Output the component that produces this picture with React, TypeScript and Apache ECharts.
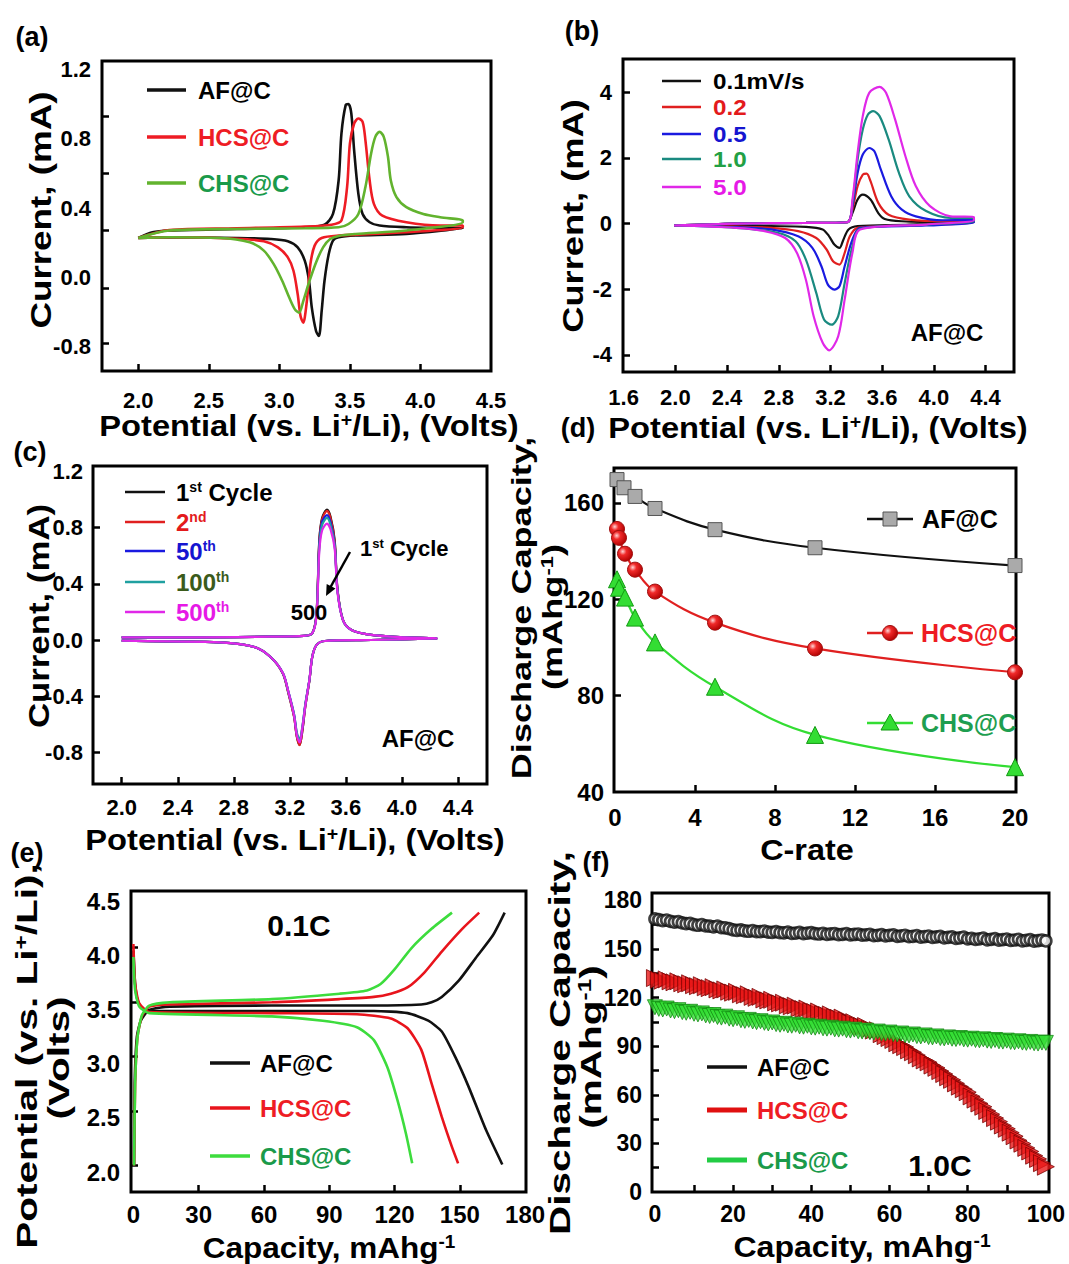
import React, { useEffect, useRef } from "react";
import * as echarts from "echarts";

const FONT = '"Liberation Sans", Arial, Helvetica, sans-serif';

// ---------- (a) CV of three materials ----------
const aAF_V = [2.00,2.10,2.22,2.70,3.18,3.32,3.38,3.42,3.44,3.47,3.49,3.51,3.53,3.56,3.59,3.64,3.71,3.90,4.14,4.30, 4.30,3.90,3.54,3.42,3.38,3.35,3.32,3.30,3.28,3.26,3.23,3.21,3.18,3.13,3.06,2.94,2.70,2.22,2.00];
const aAF_I = [0.228,0.261,0.271,0.280,0.290,0.305,0.367,0.560,0.831,0.995,1.001,0.947,0.734,0.483,0.367,0.319,0.300,0.290,0.286,0.284, 0.280,0.251,0.242,0.232,0.213,0.135,-0.019,-0.193,-0.338,-0.309,-0.174,-0.019,0.097,0.174,0.209,0.222,0.228,0.232,0.228];
const aHCS_V = [2.00,2.22,2.70,3.18,3.37,3.44,3.48,3.50,3.53,3.56,3.59,3.61,3.64,3.67,3.73,3.90,4.14,4.30, 4.30,3.90,3.42,3.30,3.25,3.22,3.20,3.18,3.17,3.15,3.13,3.10,3.06,2.99,2.89,2.70,2.22,2.00];
const aHCS_I = [0.228,0.274,0.284,0.294,0.305,0.329,0.522,0.773,0.889,0.918,0.899,0.792,0.560,0.425,0.357,0.319,0.300,0.300, 0.290,0.261,0.242,0.228,0.184,0.077,-0.097,-0.232,-0.261,-0.222,-0.097,0.039,0.116,0.174,0.209,0.224,0.232,0.228];
const aCHS_V = [2.00,2.22,2.70,3.18,3.42,3.49,3.56,3.61,3.65,3.68,3.71,3.74,3.77,3.79,3.83,3.90,4.02,4.14,4.30, 4.30,3.90,3.54,3.42,3.36,3.31,3.26,3.21,3.17,3.14,3.11,3.07,3.02,2.96,2.89,2.79,2.58,2.22,2.00];
const aCHS_I = [0.228,0.271,0.280,0.284,0.290,0.309,0.367,0.522,0.715,0.812,0.841,0.812,0.696,0.560,0.464,0.406,0.367,0.348,0.329, 0.319,0.271,0.251,0.240,0.222,0.174,0.087,-0.029,-0.135,-0.203,-0.184,-0.116,-0.019,0.077,0.155,0.203,0.228,0.232,0.228];
const aXLabels = [2.0, 2.5, 3.0, 3.5, 4.0, 4.5];
const aXTicks = [2.0, 2.5, 3.0, 3.5, 4.0];
const aYLabels = [-0.4, 0, 0.4, 0.8, 1.2];
const aYTexts = ["-0.8", "0.0", "0.4", "0.8", "1.2"];
const aYTicks = [-0.38, -0.06, 0.27, 0.6, 0.93];

// ---------- (b) scan rates ----------
const b01_V = [1.99,2.47,3.01,3.33,3.37,3.41,3.45,3.51,3.57,3.62,3.75,4.07,4.31, 4.31,3.81,3.41,3.34,3.30,3.27,3.23,3.19,3.14,3.01,2.74,2.47,1.99];
const b01_I = [-0.06,0.0,0.02,0.04,0.32,0.73,0.88,0.73,0.32,0.14,0.07,0.04,0.12, 0.07,-0.03,-0.08,-0.18,-0.49,-0.74,-0.64,-0.39,-0.18,-0.10,-0.08,-0.07,-0.06];
const b02_V = [1.99,2.47,3.01,3.33,3.37,3.41,3.45,3.48,3.51,3.57,3.65,3.81,4.07,4.31, 4.31,3.81,3.41,3.35,3.31,3.27,3.22,3.17,3.09,2.95,2.74,2.47,1.99];
const b02_I = [-0.06,0.0,0.02,0.04,0.43,1.14,1.49,1.52,1.29,0.63,0.27,0.12,0.07,0.12, 0.04,-0.06,-0.13,-0.39,-0.89,-1.25,-1.15,-0.79,-0.44,-0.23,-0.13,-0.09,-0.06];
const b05_V = [1.99,2.47,3.01,3.33,3.37,3.41,3.45,3.50,3.54,3.59,3.67,3.75,3.86,4.07,4.31, 4.31,3.94,3.43,3.37,3.31,3.27,3.23,3.18,3.13,3.06,2.95,2.74,2.47,1.99];
const b05_I = [-0.06,0.0,0.02,0.04,0.53,1.54,2.10,2.30,2.20,1.64,0.83,0.43,0.22,0.10,0.12, 0.04,-0.06,-0.13,-0.49,-1.30,-1.91,-2.01,-1.86,-1.30,-0.74,-0.39,-0.18,-0.11,-0.06];
const b10_V = [1.99,2.47,3.01,3.33,3.37,3.41,3.45,3.49,3.53,3.58,3.65,3.73,3.81,3.94,4.13,4.31, 4.31,3.94,3.43,3.37,3.31,3.26,3.21,3.15,3.09,3.01,2.93,2.79,2.47,1.99];
const b10_I = [-0.06,0.0,0.02,0.04,0.63,1.95,2.86,3.32,3.42,3.27,2.56,1.54,0.83,0.38,0.17,0.17, 0.07,-0.03,-0.16,-0.69,-1.81,-2.82,-3.08,-2.92,-2.11,-1.10,-0.54,-0.28,-0.13,-0.06];
const b50_V = [1.99,2.47,3.01,3.33,3.37,3.41,3.45,3.50,3.58,3.63,3.70,3.78,3.86,3.97,4.13,4.31, 4.31,3.94,3.43,3.37,3.31,3.26,3.19,3.14,3.07,3.01,2.94,2.85,2.69,2.47,1.99];
const b50_I = [-0.06,0.0,0.02,0.04,0.73,2.15,3.27,3.98,4.16,3.98,3.17,2.05,1.14,0.53,0.22,0.20, 0.10,-0.03,-0.18,-0.89,-2.31,-3.43,-3.86,-3.63,-2.82,-1.71,-0.89,-0.44,-0.23,-0.13,-0.06];
const bXLabels = [1.6, 2.0, 2.4, 2.8, 3.2, 3.6, 4.0, 4.4];
const bXTicks = [2.0, 2.4, 2.8, 3.2, 3.6, 4.0, 4.4];
const bYLabels = [-4, -2, 0, 2, 4];

// ---------- (c) cycling CV ----------
const cV = [2.00,2.58,3.06,3.30,3.36,3.39,3.41,3.43,3.465,3.49,3.52,3.54,3.58,3.64,3.78,4.02,4.25, 4.25,3.78,3.45,3.39,3.36,3.34,3.31,3.29,3.27,3.25,3.23,3.19,3.15,3.06,2.94,2.70,2.34,2.00];
const c1_I = [0.019,0.019,0.024,0.029,0.048,0.19,0.71,0.87,0.93,0.88,0.71,0.36,0.14,0.071,0.036,0.019,0.012, 0.007,0.0,-0.007,-0.036,-0.119,-0.285,-0.475,-0.641,-0.748,-0.689,-0.546,-0.380,-0.238,-0.119,-0.048,-0.017,-0.010,-0.005];
const c2_I = [0.019,0.019,0.024,0.029,0.048,0.19,0.70,0.86,0.92,0.87,0.70,0.36,0.14,0.071,0.036,0.019,0.012, 0.007,0.0,-0.007,-0.036,-0.119,-0.285,-0.475,-0.64,-0.75,-0.69,-0.546,-0.38,-0.238,-0.119,-0.048,-0.017,-0.010,-0.005];
const c50_I = [0.019,0.019,0.024,0.029,0.048,0.18,0.68,0.84,0.89,0.84,0.68,0.35,0.14,0.071,0.036,0.019,0.012, 0.007,0.0,-0.007,-0.036,-0.119,-0.28,-0.46,-0.62,-0.72,-0.67,-0.53,-0.37,-0.235,-0.119,-0.048,-0.017,-0.010,-0.005];
const c100_I = [0.019,0.019,0.024,0.029,0.048,0.18,0.66,0.82,0.87,0.82,0.67,0.35,0.14,0.071,0.036,0.019,0.012, 0.007,0.0,-0.007,-0.036,-0.119,-0.28,-0.46,-0.61,-0.71,-0.66,-0.53,-0.37,-0.235,-0.119,-0.048,-0.017,-0.010,-0.005];
const c500_I = [0.019,0.019,0.024,0.029,0.048,0.17,0.63,0.78,0.83,0.79,0.65,0.34,0.14,0.071,0.036,0.019,0.012, 0.007,0.0,-0.007,-0.036,-0.119,-0.28,-0.47,-0.62,-0.73,-0.68,-0.54,-0.37,-0.235,-0.119,-0.048,-0.017,-0.010,-0.005];
const cXLabels = [2.0, 2.4, 2.8, 3.2, 3.6, 4.0, 4.4];
const cYLabels = [-0.8, -0.4, 0, 0.4, 0.8, 1.2];
const cYTicks = [-0.8, -0.4, 0, 0.4, 0.8];

// ---------- (d) rate capability ----------
const dRateAF = [0.1, 0.45, 1, 2, 5, 10, 20];
const dAF = [169.7, 166.3, 162.7, 157.7, 148.9, 141.4, 134.0];
const dRate = [0.1, 0.2, 0.5, 1, 2, 5, 10, 20];
const dHCS = [149.2, 145.5, 138.9, 132.3, 123.2, 110.3, 99.6, 89.7];
const dCHS = [128.3, 124.8, 120.7, 112.4, 102.1, 83.7, 63.7, 50.3];
const dXLabels = [0, 4, 8, 12, 16, 20];
const dXTicks = [4, 8, 12, 16];
const dYLabels = [40, 80, 120, 160];
const dYTicks = [80, 120, 160];

// ---------- (e) charge / discharge at 0.1C ----------
const eAFc_x = [0.3,0.6,1.6,3.4,7.3,16.7,63.6,110.5,132.3,137.0,141.7,149.5,157.3,165.2,170.6];
const eAFc_y = [2.06,2.82,3.25,3.40,3.50,3.53,3.54,3.54,3.55,3.57,3.62,3.77,3.98,4.19,4.40];
const eAFd_x = [0,0.8,1.9,4.2,10.5,63.6,110.5,126,135.5,141.7,148,154,162,169.5];
const eAFd_y = [4.05,3.74,3.59,3.51,3.49,3.49,3.49,3.47,3.40,3.30,3.06,2.79,2.39,2.07];
const eHCSc_x = [0.3,0.8,1.9,3.9,7.3,16.7,63.6,94.8,110.5,118.3,126.1,133.9,141.7,151.1,158.9];
const eHCSc_y = [2.06,2.82,3.25,3.44,3.53,3.55,3.57,3.60,3.62,3.65,3.71,3.85,4.04,4.25,4.40];
const eHCSd_x = [0,0.8,2.7,7.3,63.6,102.7,118.3,126,132.3,137,141.7,146.4,149.2];
const eHCSd_y = [4.11,3.74,3.56,3.48,3.47,3.46,3.42,3.33,3.13,2.82,2.51,2.23,2.08];
const eCHSc_x = [0.3,0.8,1.9,3.9,7.3,16.7,63.6,94.8,107.3,113.6,119.8,127.7,137,146.4];
const eCHSc_y = [2.06,2.82,3.25,3.45,3.54,3.57,3.60,3.65,3.68,3.74,3.87,4.07,4.25,4.40];
const eCHSd_x = [0,0.8,2.7,7.3,63.6,87,102.7,110.5,116.7,121.4,125.3,128.1];
const eCHSd_y = [3.99,3.68,3.53,3.47,3.44,3.40,3.34,3.22,2.97,2.66,2.35,2.08];
const eXLabels = [0, 30, 60, 90, 120, 150, 180];
const eXTicks = [30, 60, 90, 120, 150];
const eYLabels = [2.0, 2.5, 3.0, 3.5, 4.0, 4.5];
const eYTicks = [2.062, 2.565, 3.071, 3.574, 4.083];

// ---------- (f) cycling at 1.0C ----------
const fAF = [
  168.5,168.0,167.5,167.8,167.0,166.5,166.8,166.0,165.6,165.8,
  165.0,164.6,165.0,164.2,164.0,163.6,164.0,163.2,163.0,162.5,
  161.8,161.4,161.7,161.2,160.9,161.3,160.7,160.6,161.0,160.4,
  160.2,160.6,160.0,159.9,160.3,159.6,159.8,160.2,159.5,159.7,
  160.0,159.4,159.2,159.6,159.0,159.3,159.5,158.8,159.0,159.4,
  158.7,158.9,159.2,158.5,158.7,159.0,158.2,158.4,158.8,158.0,
  158.3,158.6,157.8,158.0,158.4,157.6,157.8,158.2,157.3,157.6,
  157.9,157.1,157.4,157.7,156.8,157.1,157.4,156.5,156.8,157.2,
  156.2,156.5,155.9,156.2,156.6,155.6,155.9,156.3,155.4,155.7,
  156.1,155.2,155.5,155.9,155.0,155.3,155.7,154.8,155.1,155.5,
  154.9];
const fHCS = [
  132.0,131.0,130.4,131.2,130.0,129.4,130.0,128.8,128.2,128.8,
  127.6,127.0,127.6,126.3,125.8,126.4,125.0,124.4,125.0,123.6,
  123.0,123.5,122.0,121.4,122.0,120.4,119.8,120.4,118.8,118.2,
  118.6,117.0,116.4,116.8,115.2,114.6,115.0,113.4,112.8,113.2,
  111.6,111.0,111.4,109.8,109.2,109.6,108.0,107.4,107.6,106.0,
  104.5,104.8,103.0,102.3,102.4,100.6,99.6,99.8,97.4,96.2,
  95.0,93.8,91.8,90.6,89.4,87.4,86.2,84.4,82.4,81.2,
  80.0,78.0,76.6,74.6,72.8,70.8,69.2,67.0,65.0,63.4,
  61.6,59.0,57.0,54.6,52.6,50.0,48.0,45.6,43.4,41.0,
  39.0,36.6,34.4,31.8,29.8,27.2,25.0,22.4,20.4,17.8,
  15.6];
const fCHS = [
  114.0,113.0,112.6,113.2,112.0,111.6,112.2,111.0,110.6,111.2,
  110.0,109.6,110.2,109.0,108.6,109.2,108.0,107.6,108.2,107.0,
  106.6,107.2,106.0,105.6,106.2,105.2,104.8,105.4,104.4,104.0,
  104.6,103.6,103.2,103.8,102.8,102.6,103.2,102.2,102.0,102.6,
  101.6,101.4,102.0,101.0,100.8,101.4,100.4,100.2,100.8,99.8,
  99.6,100.2,99.2,99.0,99.6,98.6,98.4,99.0,98.0,97.8,
  98.4,97.4,97.2,97.8,96.8,96.6,97.2,96.2,96.0,96.6,
  95.6,95.4,96.0,95.0,94.8,95.4,94.6,94.4,95.0,94.2,
  94.0,94.6,93.8,93.6,94.2,93.4,93.2,93.8,93.0,92.8,
  93.4,92.6,92.4,93.0,92.2,92.0,92.6,91.8,91.6,92.2,
  92.0];
const fCycle = fAF.map((_, i) => i);
const fXLabels = [0, 20, 40, 60, 80, 100];
const fXTicks = [10, 20, 30, 40, 50, 60, 70, 80, 90];
const fYLabels = [0, 30, 60, 90, 120, 150, 180];
const fYTicks = [15, 30, 45, 60, 75, 90, 105, 120, 135, 150, 165];

const zip = (xs: number[], ys: number[]) => xs.map((x, i) => [x, ys[i]]);

function axis(gridIndex: number, min: number, max: number, ticks: number[], labels: number[], texts: string[], margin: number, fontSize: number) {
  return {
    type: "value", gridIndex, min, max,
    axisLine: { show: false, onZero: false },
    splitLine: { show: false },
    axisTick: { show: true, inside: true, length: 7, lineStyle: { color: "#000", width: 2.5 }, customValues: ticks },
    axisLabel: {
      show: true, customValues: labels, margin, fontSize, fontWeight: "bold", fontFamily: FONT, color: "#000",
      formatter: (v: number) => { const i = labels.findIndex((t) => Math.abs(t - v) < 1e-6); return i >= 0 ? texts[i] : ""; },
    },
  };
}
const fx1 = (a: number[]) => a.map((v) => v.toFixed(1));
const fx0 = (a: number[]) => a.map((v) => String(v));

function cvLine(gi: number, xs: number[], ys: number[], color: string, width = 2.3, smooth: number = 0.3) {
  return {
    type: "line", xAxisIndex: gi, yAxisIndex: gi, data: zip(xs, ys), symbol: "none", showSymbol: false,
    smooth, lineStyle: { color, width }, itemStyle: { color }, silent: true,
  };
}

function T(x: number, y: number, text: string, size: number, color = "#000", o: any = {}) {
  return {
    type: "text", x, y, rotation: o.rot || 0, scaleX: o.sx || 1, scaleY: o.sy || 1, z: 50, silent: true,
    style: {
      text, fill: color, fontSize: size, fontWeight: "bold", fontFamily: FONT,
      align: o.align || "center", verticalAlign: "middle",
      rich: { sup: { fontSize: Math.round(size * 0.6), fontWeight: "bold", fontFamily: FONT, fill: color, verticalAlign: "top" } },
    },
  };
}
const LN = (x1: number, y: number, x2: number, color: string, w = 3) => ({
  type: "line", z: 50, silent: true, shape: { x1, y1: y, x2, y2: y }, style: { stroke: color, lineWidth: w },
});

export default function App() {
  const ref = useRef<HTMLDivElement>(null);
  useEffect(() => {
    if (!ref.current) return;
    const chart = echarts.init(ref.current, undefined, { renderer: "svg" });
    const ROT = Math.PI / 2;
    const BLACK = "#111111", RED = "#ee1c24", TXTGREEN = "#1a9a4a";
    const redBall = new echarts.graphic.RadialGradient(0.35, 0.35, 0.7, [
      { offset: 0, color: "#ffd6d6" }, { offset: 0.35, color: "#f02a2a" }, { offset: 1, color: "#b00000" },
    ]);

    const gridBox = (left: number, top: number, width: number, height: number) => ({
      left, top, width, height, show: true, borderColor: "#000", borderWidth: 3, backgroundColor: "transparent",
    });

    const option: any = {
      animation: false,
      backgroundColor: "#ffffff",
      grid: [
        gridBox(102, 61, 389, 310),
        gridBox(623, 59, 391, 313),
        gridBox(93, 466, 394, 318),
        gridBox(614, 468, 402, 324),
        gridBox(131, 891, 395, 301),
        gridBox(652, 893, 397, 299),
      ],
      xAxis: [
        axis(0, 1.743, 4.5, aXTicks, aXLabels, fx1(aXLabels), 18, 22),
        axis(1, 1.595, 4.62, bXTicks, bXLabels, fx1(bXLabels), 14, 22),
        axis(2, 1.795, 4.607, cXLabels, cXLabels, fx1(cXLabels), 12, 22),
        axis(3, -0.05, 20.05, dXTicks, dXLabels, fx0(dXLabels), 13, 24),
        axis(4, -1.1, 180.4, eXTicks, eXLabels, fx0(eXLabels), 10, 24),
        axis(5, -0.75, 100.8, fXTicks, fXLabels, fx0(fXLabels), 10, 23),
      ],
      yAxis: [
        axis(0, -0.54, 1.25, aYTicks, aYLabels, aYTexts, 11, 22),
        axis(1, -4.52, 5.01, bYLabels, bYLabels, fx0(bYLabels), 11, 22),
        axis(2, -1.026, 1.24, cYTicks, cYLabels, fx1(cYLabels), 10, 22),
        axis(3, 40, 174.5, dYTicks, dYLabels, fx0(dYLabels), 10, 24),
        axis(4, 1.815, 4.6, eYTicks, eYLabels, fx1(eYLabels), 11, 24),
        axis(5, 0, 184.5, fYTicks, fYLabels, fx0(fYLabels), 10, 23),
      ],
      series: [
        // (a)
        cvLine(0, aAF_V, aAF_I, BLACK, 2.6),
        cvLine(0, aHCS_V, aHCS_I, "#ee1c24", 2.6),
        cvLine(0, aCHS_V, aCHS_I, "#62b32e", 2.6),
        // (b)
        cvLine(1, b01_V, b01_I, BLACK, 2.2),
        cvLine(1, b02_V, b02_I, "#e02020", 2.2),
        cvLine(1, b05_V, b05_I, "#1a1ae0", 2.2),
        cvLine(1, b10_V, b10_I, "#1a8a80", 2.2),
        cvLine(1, b50_V, b50_I, "#e028e8", 2.2),
        // (c)
        cvLine(2, cV, c1_I, BLACK, 2.2),
        cvLine(2, cV, c2_I, "#e02020", 2.2),
        cvLine(2, cV, c50_I, "#1a1ae0", 2.2),
        cvLine(2, cV, c100_I, "#20a0a0", 2.2),
        cvLine(2, cV, c500_I, "#e028e8", 2.2),
        // (d)
        {
          type: "line", xAxisIndex: 3, yAxisIndex: 3, data: zip(dRateAF, dAF), smooth: 0.4,
          symbol: "rect", symbolSize: 14, lineStyle: { color: BLACK, width: 2.2 },
          itemStyle: { color: "#aaaaaa", borderColor: "#555555", borderWidth: 1 }, silent: true,
        },
        {
          type: "line", xAxisIndex: 3, yAxisIndex: 3, data: zip(dRate, dHCS), smooth: 0.4,
          symbol: "circle", symbolSize: 15, lineStyle: { color: "#e02020", width: 2.2 },
          itemStyle: { color: redBall, borderColor: "#a01010", borderWidth: 1 }, silent: true,
        },
        {
          type: "line", xAxisIndex: 3, yAxisIndex: 3, data: zip(dRate, dCHS), smooth: 0.4,
          symbol: "triangle", symbolSize: 17, lineStyle: { color: "#33dd33", width: 2.2 },
          itemStyle: { color: "#33dd33", borderColor: "#119911", borderWidth: 1 }, silent: true,
        },
        // (e)
        cvLine(4, eAFc_x, eAFc_y, BLACK, 2.6, 0.2),
        cvLine(4, eAFd_x, eAFd_y, BLACK, 2.6, 0.2),
        cvLine(4, eHCSc_x, eHCSc_y, "#e8141c", 2.6, 0.2),
        cvLine(4, eHCSd_x, eHCSd_y, "#e8141c", 2.6, 0.2),
        cvLine(4, eCHSc_x, eCHSc_y, "#3ddc3d", 2.6, 0.2),
        cvLine(4, eCHSd_x, eCHSd_y, "#3ddc3d", 2.6, 0.2),
        // (f)
        {
          type: "scatter", xAxisIndex: 5, yAxisIndex: 5, data: zip(fCycle, fHCS), symbol: "triangle",
          symbolSize: 17, symbolRotate: -90, itemStyle: { color: "#e81818", borderColor: "#7a0000", borderWidth: 1 }, silent: true,
        },
        {
          type: "scatter", xAxisIndex: 5, yAxisIndex: 5, data: zip(fCycle, fCHS), symbol: "triangle",
          symbolSize: 15, symbolRotate: 180, itemStyle: { color: "#33dd33", borderColor: "#138a13", borderWidth: 1 }, silent: true,
        },
        {
          type: "scatter", xAxisIndex: 5, yAxisIndex: 5, data: zip(fCycle, fAF), symbol: "circle",
          symbolSize: 11, itemStyle: { color: "#ffffff", borderColor: "#111111", borderWidth: 2.6 }, silent: true,
        },
      ],
      graphic: [
        // panel letters
        T(32, 37, "(a)", 27), T(582, 31, "(b)", 27), T(30, 452, "(c)", 27),
        T(578, 428, "(d)", 27), T(27, 853, "(e)", 27), T(596, 862, "(f)", 27),
        // x titles
        T(309, 426, "Potential (vs. Li{sup|+}/Li), (Volts)", 30, "#000", { sx: 1.09 }),
        T(818, 428, "Potential (vs. Li{sup|+}/Li), (Volts)", 30, "#000", { sx: 1.09 }),
        T(295, 840, "Potential (vs. Li{sup|+}/Li), (Volts)", 30, "#000", { sx: 1.09 }),
        T(807, 850, "C-rate", 30, "#000", { sx: 1.08 }),
        T(329, 1248, "Capacity, mAhg{sup|-1}", 30, "#000", { sx: 1.05 }),
        T(862, 1247, "Capacity, mAhg{sup|-1}", 30, "#000", { sx: 1.07 }),
        // y titles
        T(41, 210, "Current, (mA)", 29, "#000", { rot: ROT, sx: 1.27 }),
        T(573, 216, "Current, (mA)", 29, "#000", { rot: ROT, sx: 1.25 }),
        T(39, 616, "Current, (mA)", 29, "#000", { rot: ROT, sx: 1.2 }),
        T(521, 608, "Discharge Capacity,", 28, "#000", { rot: ROT, sx: 1.29 }),
        T(552, 617, "(mAhg{sup|-1})", 28, "#000", { rot: ROT, sx: 1.29 }),
        T(27, 1056, "Potential (vs. Li{sup|+}/Li),", 30, "#000", { rot: ROT, sx: 1.35 }),
        T(59, 1058, "(Volts)", 30, "#000", { rot: ROT, sx: 1.35 }),
        T(560, 1043, "Discharge Capacity,", 30, "#000", { rot: ROT, sx: 1.35 }),
        T(591, 1047, "(mAhg{sup|-1})", 30, "#000", { rot: ROT, sx: 1.35 }),
        // legend (a)
        LN(147, 90, 186, BLACK, 3.5), T(198, 90, "AF@C", 24, "#000", { align: "left" }),
        LN(147, 137, 186, "#ee1c24", 3.5), T(198, 137, "HCS@C", 24, RED, { align: "left" }),
        LN(147, 183, 186, "#62b32e", 3.5), T(198, 183, "CHS@C", 24, TXTGREEN, { align: "left" }),
        // legend (b)
        LN(662, 81, 701, BLACK, 2.5), T(713, 81, "0.1mV/s", 22, "#000", { align: "left", sx: 1.1 }),
        LN(662, 107, 701, "#e02020", 2.5), T(713, 107, "0.2", 22, "#e31a1c", { align: "left", sx: 1.1 }),
        LN(662, 134, 701, "#1a1ae0", 2.5), T(713, 134, "0.5", 22, "#1515d0", { align: "left", sx: 1.1 }),
        LN(662, 159, 701, "#1a8a80", 2.5), T(713, 159, "1.0", 22, "#22a044", { align: "left", sx: 1.1 }),
        LN(662, 187, 701, "#e028e8", 2.5), T(713, 187, "5.0", 22, "#e619e6", { align: "left", sx: 1.1 }),
        T(947, 332, "AF@C", 24),
        // legend (c)
        LN(125, 492, 165, BLACK, 2.5), T(176, 492, "1{sup|st} Cycle", 24, "#000", { align: "left" }),
        LN(125, 522, 165, "#e02020", 2.5), T(176, 522, "2{sup|nd}", 24, "#e31a1c", { align: "left" }),
        LN(125, 551, 165, "#1a1ae0", 2.5), T(176, 551, "50{sup|th}", 24, "#1515d0", { align: "left" }),
        LN(125, 582, 165, "#20a0a0", 2.5), T(176, 582, "100{sup|th}", 24, "#3b5b1b", { align: "left" }),
        LN(125, 612, 165, "#e028e8", 2.5), T(176, 612, "500{sup|th}", 24, "#e619e6", { align: "left" }),
        T(360, 548, "1{sup|st} Cycle", 22, "#000", { align: "left" }),
        T(309, 612, "500", 22),
        T(418, 738, "AF@C", 24),
        { type: "line", z: 50, silent: true, shape: { x1: 350, y1: 552, x2: 330, y2: 588 }, style: { stroke: "#000", lineWidth: 2.5 } },
        { type: "polygon", z: 50, silent: true, shape: { points: [[326, 596], [335.5, 588.5], [326.7, 583.9]] }, style: { fill: "#000" } },
        // legend (d)
        LN(867, 519, 913, BLACK, 2.5),
        { type: "rect", z: 51, silent: true, shape: { x: 883, y: 512, width: 14, height: 14 }, style: { fill: "#aaaaaa", stroke: "#555555", lineWidth: 1 } },
        T(922, 519, "AF@C", 25, "#000", { align: "left" }),
        LN(867, 633, 913, "#e02020", 2.5),
        { type: "circle", z: 51, silent: true, shape: { cx: 890, cy: 633, r: 7.5 }, style: { fill: redBall, stroke: "#a01010", lineWidth: 1 } },
        T(921, 633, "HCS@C", 25, RED, { align: "left" }),
        LN(867, 723, 913, "#33dd33", 2.5),
        { type: "polygon", z: 51, silent: true, shape: { points: [[890, 714], [881, 730], [899, 730]] }, style: { fill: "#33dd33", stroke: "#119911", lineWidth: 1 } },
        T(921, 723, "CHS@C", 25, "#1e9e50", { align: "left" }),
        // legend (e)
        LN(210, 1063, 250, BLACK, 3.5), T(260, 1063, "AF@C", 24, "#000", { align: "left" }),
        LN(210, 1108, 250, "#e8141c", 3.5), T(260, 1108, "HCS@C", 24, RED, { align: "left" }),
        LN(210, 1156, 250, "#3ddc3d", 3.5), T(260, 1156, "CHS@C", 24, TXTGREEN, { align: "left" }),
        T(299, 925, "0.1C", 30),
        // legend (f)
        LN(707, 1067, 747, BLACK, 3.5), T(757, 1067, "AF@C", 24, "#000", { align: "left" }),
        LN(707, 1110, 747, "#e01010", 5), T(757, 1110, "HCS@C", 24, RED, { align: "left" }),
        LN(707, 1160, 747, "#22cc44", 5), T(757, 1160, "CHS@C", 24, TXTGREEN, { align: "left" }),
        T(940, 1165, "1.0C", 30),
      ],
    };
    chart.setOption(option);
    return () => chart.dispose();
  }, []);
  return <div ref={ref} style={{ position: "absolute", left: 0, top: 0, width: 1069, height: 1264, background: "#fff" }} />;
}
